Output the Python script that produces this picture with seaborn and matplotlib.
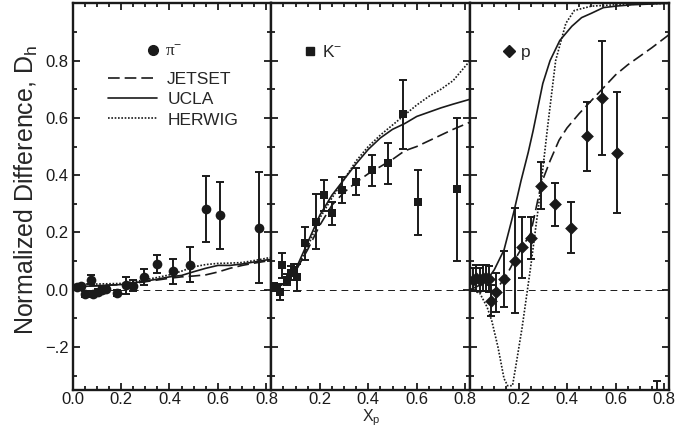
import numpy as np
import matplotlib
matplotlib.use('Agg')
import matplotlib.pyplot as plt
import seaborn as sns
from matplotlib.lines import Line2D
from matplotlib.ticker import FixedLocator, MultipleLocator

sns.set_theme(style='ticks')
plt.rcParams['font.family'] = ['Liberation Sans', 'DejaVu Sans']
plt.rcParams['mathtext.fontset'] = 'custom'
plt.rcParams['mathtext.rm'] = 'Liberation Sans'
plt.rcParams['mathtext.it'] = 'Liberation Sans:italic'
plt.rcParams['mathtext.sf'] = 'Liberation Sans'

# ---- data ----
# pi- panel
pi_x = [0.02, 0.034, 0.05, 0.075, 0.086, 0.106, 0.12, 0.14, 0.185, 0.22, 0.25, 0.296, 0.35, 0.416, 0.485, 0.549, 0.608, 0.77]
pi_y = [0.011, 0.014, -0.015, 0.035, -0.014, -0.008, 0.0, 0.002, -0.012, 0.015, 0.014, 0.044, 0.09, 0.064, 0.088, 0.282, 0.26, 0.217]
pi_err = [0.005, 0.006, 0.01, 0.015, 0.01, 0.01, 0.008, 0.008, 0.01, 0.03, 0.02, 0.027, 0.03, 0.045, 0.062, 0.116, 0.117, 0.194]

jet1_x = [0.0, 0.05, 0.1, 0.15, 0.2, 0.25, 0.3, 0.35, 0.4, 0.45, 0.5, 0.55, 0.6, 0.65, 0.7, 0.75, 0.8, 0.82]
jet1_y = [0.01, 0.012, 0.014, 0.016, 0.018, 0.022, 0.028, 0.034, 0.04, 0.045, 0.048, 0.052, 0.062, 0.075, 0.085, 0.093, 0.1, 0.102]
ucla1_x = [0.0, 0.05, 0.1, 0.15, 0.2, 0.25, 0.3, 0.35, 0.4, 0.45, 0.5, 0.55, 0.6, 0.65, 0.7, 0.75, 0.8, 0.82]
ucla1_y = [0.01, 0.012, 0.014, 0.016, 0.018, 0.024, 0.03, 0.037, 0.045, 0.05, 0.063, 0.075, 0.085, 0.085, 0.09, 0.097, 0.104, 0.106]
her1_x = [0.0, 0.05, 0.1, 0.15, 0.2, 0.25, 0.3, 0.35, 0.4, 0.45, 0.5, 0.55, 0.6, 0.65, 0.7, 0.75, 0.8, 0.82]
her1_y = [0.02, 0.02, 0.02, 0.021, 0.022, 0.028, 0.035, 0.043, 0.052, 0.065, 0.08, 0.088, 0.092, 0.093, 0.095, 0.102, 0.11, 0.113]

# K- panel
k_x = [0.011, 0.018, 0.035, 0.045, 0.066, 0.08, 0.094, 0.107, 0.139, 0.183, 0.217, 0.249, 0.293, 0.348, 0.417, 0.483, 0.543, 0.606, 0.767]
k_y = [0.012, 0.006, -0.009, 0.085, 0.035, 0.058, 0.07, 0.043, 0.162, 0.238, 0.33, 0.267, 0.348, 0.377, 0.417, 0.441, 0.612, 0.305, 0.351]
k_err = [0.01, 0.012, 0.028, 0.043, 0.02, 0.025, 0.02, 0.047, 0.057, 0.095, 0.054, 0.041, 0.045, 0.047, 0.055, 0.072, 0.119, 0.113, 0.25]

jet2_x = [0.0, 0.05, 0.1, 0.15, 0.2, 0.25, 0.3, 0.35, 0.4, 0.45, 0.5, 0.55, 0.6, 0.65, 0.7, 0.75, 0.82]
jet2_y = [0.0, 0.02, 0.065, 0.14, 0.225, 0.295, 0.34, 0.375, 0.405, 0.43, 0.455, 0.485, 0.50, 0.52, 0.54, 0.56, 0.585]
ucla2_x = [0.0, 0.05, 0.1, 0.15, 0.2, 0.25, 0.3, 0.35, 0.4, 0.45, 0.5, 0.55, 0.6, 0.65, 0.7, 0.75, 0.82]
ucla2_y = [0.0, 0.02, 0.07, 0.165, 0.26, 0.33, 0.385, 0.44, 0.49, 0.53, 0.56, 0.58, 0.605, 0.62, 0.635, 0.648, 0.665]
her2_x = [0.0, 0.05, 0.1, 0.15, 0.2, 0.25, 0.3, 0.35, 0.4, 0.45, 0.5, 0.55, 0.6, 0.65, 0.7, 0.75, 0.82]
her2_y = [0.01, 0.02, 0.065, 0.15, 0.25, 0.32, 0.385, 0.45, 0.5, 0.54, 0.575, 0.61, 0.645, 0.675, 0.70, 0.73, 0.80]

# p panel
p_x = [0.01, 0.025, 0.04, 0.055, 0.067, 0.078, 0.088, 0.108, 0.14, 0.184, 0.216, 0.25, 0.294, 0.349, 0.415, 0.484, 0.546, 0.607, 0.773]
p_y = [0.035, 0.04, 0.035, 0.04, 0.04, 0.037, -0.038, -0.009, 0.037, 0.102, 0.148, 0.18, 0.363, 0.298, 0.217, 0.536, 0.67, 0.479, -0.60]
p_err = [0.04, 0.045, 0.04, 0.045, 0.045, 0.045, 0.053, 0.068, 0.098, 0.182, 0.107, 0.073, 0.082, 0.074, 0.09, 0.12, 0.198, 0.211, 0.283]

jet3_x = [0.0, 0.05, 0.108, 0.15, 0.184, 0.216, 0.25, 0.294, 0.33, 0.367, 0.4, 0.45, 0.5, 0.55, 0.6, 0.65, 0.7, 0.75, 0.82]
jet3_y = [0.0, -0.01, 0.0, 0.05, 0.104, 0.15, 0.197, 0.371, 0.45, 0.522, 0.565, 0.615, 0.66, 0.705, 0.75, 0.785, 0.815, 0.845, 0.89]
ucla3_x = [0.0, 0.05, 0.08, 0.1, 0.14, 0.18, 0.21, 0.24, 0.26, 0.3, 0.33, 0.37, 0.42, 0.46, 0.5, 0.55, 0.6, 0.67, 0.82]
ucla3_y = [0.0, 0.02, 0.046, 0.07, 0.139, 0.27, 0.38, 0.48, 0.555, 0.72, 0.8, 0.87, 0.92, 0.95, 0.965, 0.985, 0.99, 0.995, 1.0]
her3_x = [0.0, 0.04, 0.07, 0.09, 0.115, 0.14, 0.155, 0.175, 0.19, 0.215, 0.25, 0.285, 0.32, 0.353, 0.395, 0.43, 0.5, 0.6, 0.82]
her3_y = [0.0, -0.012, -0.06, -0.11, -0.2, -0.31, -0.335, -0.335, -0.26, -0.13, 0.08, 0.31, 0.57, 0.8, 0.93, 0.975, 0.99, 0.995, 1.0]

# ---- figure ----
fig = plt.figure(figsize=(6.96, 4.29), dpi=100)
left0, bottom, w, h = 0.1042, 0.0909, 0.2856, 0.9014
axes = [fig.add_axes([left0 + i * w, bottom, w, h]) for i in range(3)]

panels = [
    (pi_x, pi_y, pi_err, 'o', 7.0, 'π', (jet1_x, jet1_y), (ucla1_x, ucla1_y), (her1_x, her1_y)),
    (k_x, k_y, k_err, 's', 6.0, 'K', (jet2_x, jet2_y), (ucla2_x, ucla2_y), (her2_x, her2_y)),
    (p_x, p_y, p_err, 'D', 6.5, 'p', (jet3_x, jet3_y), (ucla3_x, ucla3_y), (her3_x, her3_y)),
]

lw = 1.2
for i, (ax, (px, py, pe, mk, ms, name, jet, ucla, her)) in enumerate(zip(axes, panels)):
    ax.axhline(0, color='k', lw=0.7, ls=(0, (7, 5)), zorder=1)
    sns.lineplot(x=jet[0], y=jet[1], ax=ax, color='k', lw=lw, sort=False)
    ax.lines[-1].set_linestyle((0, (7, 3)))
    sns.lineplot(x=ucla[0], y=ucla[1], ax=ax, color='k', lw=lw, sort=False)
    sns.lineplot(x=her[0], y=her[1], ax=ax, color='k', lw=lw, sort=False)
    ax.lines[-1].set_linestyle((0, (1, 1)))
    ax.errorbar(px, py, yerr=pe, fmt='none', ecolor='k', elinewidth=1.4, capsize=3, capthick=1.4, zorder=3)
    sns.scatterplot(x=px, y=py, ax=ax, marker=mk, color='k', s=ms ** 2, edgecolor='k', linewidth=0, zorder=4)

    ax.set_xlim(0, 0.82)
    ax.set_ylim(-0.35, 1.0)
    ax.xaxis.set_minor_locator(MultipleLocator(0.05))
    ax.yaxis.set_minor_locator(MultipleLocator(0.1))
    if i == 0:
        ax.xaxis.set_major_locator(FixedLocator([0.0, 0.2, 0.4, 0.6, 0.8]))
        ax.set_xticklabels(['0.0', '0.2', '0.4', '0.6', '0.8'])
        ax.yaxis.set_major_locator(FixedLocator([-0.2, 0.0, 0.2, 0.4, 0.6, 0.8]))
        ax.set_yticklabels(['\u2212.2', '0.0', '0.2', '0.4', '0.6', '0.8'])
    else:
        ax.xaxis.set_major_locator(FixedLocator([0.2, 0.4, 0.6, 0.8]))
        ax.set_xticklabels(['0.2', '0.4', '0.6', '0.8'])
        ax.yaxis.set_major_locator(FixedLocator([-0.2, 0.0, 0.2, 0.4, 0.6, 0.8]))
        ax.set_yticklabels([])
    ax.tick_params(which='both', direction='in', top=True, right=True, width=1.3, colors='k', labelsize=12)
    ax.tick_params(axis='x', pad=1.5)
    ax.tick_params(axis='y', pad=3)
    ax.tick_params(which='major', length=5)
    ax.tick_params(which='minor', length=3)
    for sp in ax.spines.values():
        sp.set_linewidth(1.7)
        sp.set_color('k')
    ax.set_xlabel('')
    ax.set_ylabel('')

    # particle label legend
    h_mark = Line2D([], [], marker=mk, color='k', ls='none', markersize=ms)
    leg = ax.legend([h_mark], [name + '$^{\u2212}$' if name != 'p' else 'p'], loc='center left',
                    bbox_to_anchor=(0.37 if i == 0 else 0.16, 0.874), frameon=False,
                    handlelength=0.8, handletextpad=0.3, borderpad=0, borderaxespad=0, fontsize=12.5)
    if i == 0:
        leg.get_texts()[0].set_family(['Liberation Serif', 'DejaVu Serif'])
        ax.add_artist(leg)
        hl = [Line2D([], [], color='k', lw=lw, ls=(0, (7, 3))),
              Line2D([], [], color='k', lw=lw),
              Line2D([], [], color='k', lw=lw, ls=(0, (1, 1)))]
        ax.legend(hl, ['JETSET', 'UCLA', 'HERWIG'], loc='center left', bbox_to_anchor=(0.179, 0.751),
                  frameon=False, handlelength=2.8, handletextpad=0.6, labelspacing=0.3,
                  borderpad=0, borderaxespad=0, fontsize=12.5)

fig.text(26 / 696, 1 - 190 / 429, 'Normalized Difference, D$_\\mathrm{h}$', rotation=90,
         ha='center', va='center', fontsize=18)

# x label sits right under the tick labels of the middle panel
fig.canvas.draw()
rend = fig.canvas.get_renderer()
tick_bottom = min(t.get_window_extent(rend).y0 for t in axes[1].get_xticklabels())
xl = fig.text(371 / 696, (tick_bottom - 0.5) / fig.bbox.height, 'X$_\\mathrm{p}$',
              ha='center', va='top', fontsize=13)
for fs in [13, 12.5, 12, 11.5, 11, 10.5, 10]:
    xl.set_fontsize(fs)
    if xl.get_window_extent(rend).y0 >= 0.5:
        break

fig.savefig('out.png', dpi=100)
